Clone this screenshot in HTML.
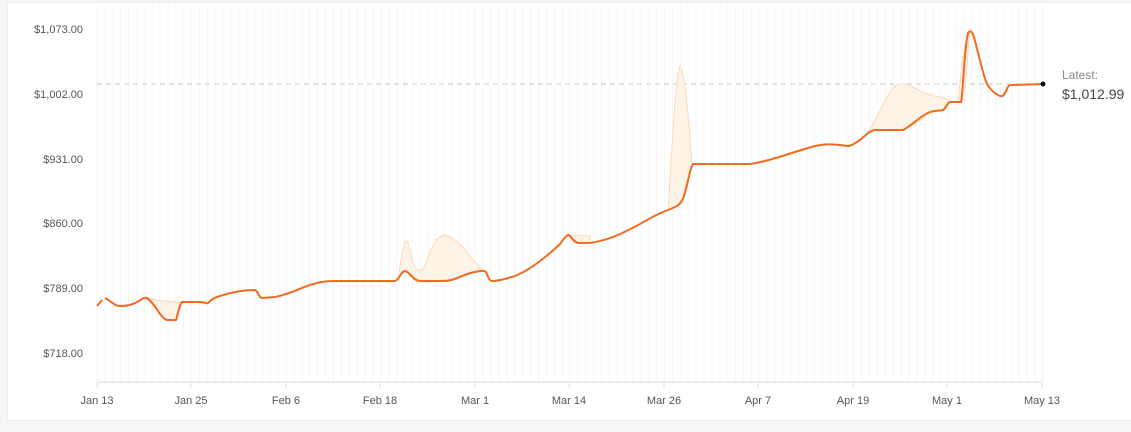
<!DOCTYPE html>
<html><head><style>
html,body{margin:0;padding:0;background:#f6f6f6;width:1131px;height:432px;overflow:hidden;font-family:"Liberation Sans",sans-serif}
.card{position:absolute;left:7px;top:2px;width:1130px;height:417px;background:#fff;border:1px solid #ececec;border-radius:3px}
</style></head><body>
<div class="card"></div>
<svg width="1131" height="432" style="position:absolute;left:0;top:0" font-family="Liberation Sans, sans-serif">
<g id="grid" stroke="#f5f5f5" stroke-width="1"></g>
<line x1="97" y1="382" x2="1043" y2="382" stroke="#ececec" stroke-width="2"/>
<g fill="#555" font-size="11" text-anchor="end">
<text x="83" y="33">$1,073.00</text>
<text x="83" y="98">$1,002.00</text>
<text x="83" y="163">$931.00</text>
<text x="83" y="227">$860.00</text>
<text x="83" y="292">$789.00</text>
<text x="83" y="357">$718.00</text>
</g>
<g fill="#555" font-size="11" text-anchor="middle">
<text x="97" y="404">Jan 13</text>
<text x="191" y="404">Jan 25</text>
<text x="286" y="404">Feb 6</text>
<text x="380" y="404">Feb 18</text>
<text x="475" y="404">Mar 1</text>
<text x="569" y="404">Mar 14</text>
<text x="664" y="404">Mar 26</text>
<text x="758" y="404">Apr 7</text>
<text x="853" y="404">Apr 19</text>
<text x="947" y="404">May 1</text>
<text x="1042" y="404">May 13</text>
</g>
<g stroke="#ddd"><line x1="97" y1="383" x2="97" y2="388"/><line x1="191" y1="383" x2="191" y2="388"/><line x1="286" y1="383" x2="286" y2="388"/><line x1="380" y1="383" x2="380" y2="388"/><line x1="475" y1="383" x2="475" y2="388"/><line x1="569" y1="383" x2="569" y2="388"/><line x1="664" y1="383" x2="664" y2="388"/><line x1="758" y1="383" x2="758" y2="388"/><line x1="853" y1="383" x2="853" y2="388"/><line x1="947" y1="383" x2="947" y2="388"/><line x1="1042" y1="383" x2="1042" y2="388"/></g>
<line x1="97" y1="84" x2="1043" y2="84" stroke="#c8c8c8" stroke-dasharray="5,4"/>
<g fill="#fdf3e6" stroke="#fcd9bd" stroke-width="1">
<path d="M145,298 C155,300 165,302 182,302 L176,320 L165,320 C158,312 152,303 145,298Z"/>
<path d="M398,281 C402,250 406,228 410,250 C414,272 420,275 425,265 C432,245 438,232 448,236 C462,242 470,258 483,271 L475,272 C460,278 445,281 420,281 L412,275 L405,271 L400,275Z"/>
<path d="M668,210 C672,150 676,70 680,66 C684,66 688,110 692,164 L685,195 L680,205Z"/>
<path d="M865,136 C878,120 888,88 898,84 C912,82 920,95 940,97 C946,97 948,100 950,102 L945,110 L930,113 L915,124 L905,129 L875,130Z"/>
<path d="M958,102 C962,60 965,38 970,31 L965,90 L962,102Z"/>
<path d="M568,236 L575,235 L590,236 L590,243 L575,243Z"/>
</g>
<path fill="none" stroke="#f26b21" stroke-width="2" stroke-linejoin="round" d="M97,306 L102,300 M105,298 C112,302 115,306 120,306 C126,306 132,305 137,302 C141,300 143,297 147,298 C155,303 160,318 167,320 L176,320 C178,314 179,305 182,302 L200,302 C205,302 206,304 208,303 C211,300 213,298 220,296 C232,292 245,290 255,290 C258,291 259,298 262,298 L275,297 C290,294 300,288 310,285 C320,282 325,281 333,281 L395,281 C400,279 401,271 405,271 C409,271 413,281 420,281 L445,281 C455,281 465,273 475,272 C480,271 484,270 486,272 C488,276 489,281 492,281 C500,281 508,278 515,276 C530,270 545,258 560,244 C563,240 566,235 569,235 C571,236 574,243 579,243 L590,243 C610,240 625,232 640,224 C650,218 660,213 668,210 C676,207 681,205 684,196 C688,183 690,168 693,164 L750,164 C770,161 790,153 815,146 C825,144 830,144 840,145 L848,146 C852,146 855,143 860,140 C866,135 870,130 876,130 L903,130 C910,127 920,116 930,112 C935,110 940,111 943,110 C946,108 947,103 950,102 L961,102 C963,95 964,50 968,33 C970,30 972,31 974,37 C978,52 983,75 987,84 C992,92 996,94 1000,96 C1003,97 1004,95 1006,91 C1008,87 1008,85 1012,85 L1043,84"/>
<circle cx="1043" cy="84" r="2.5" fill="#111"/>
<text x="1062" y="79" font-size="12" fill="#888">Latest:</text>
<text x="1062" y="99" font-size="14" fill="#444">$1,012.99</text>
</svg>
<script>
var g=document.getElementById('grid'),s='';
for(var i=0;i<=120;i++){var x=97+i*946/120;s+='<line x1="'+x+'" y1="5" x2="'+x+'" y2="381"/>';}
g.innerHTML=s;
</script>
</body></html>
